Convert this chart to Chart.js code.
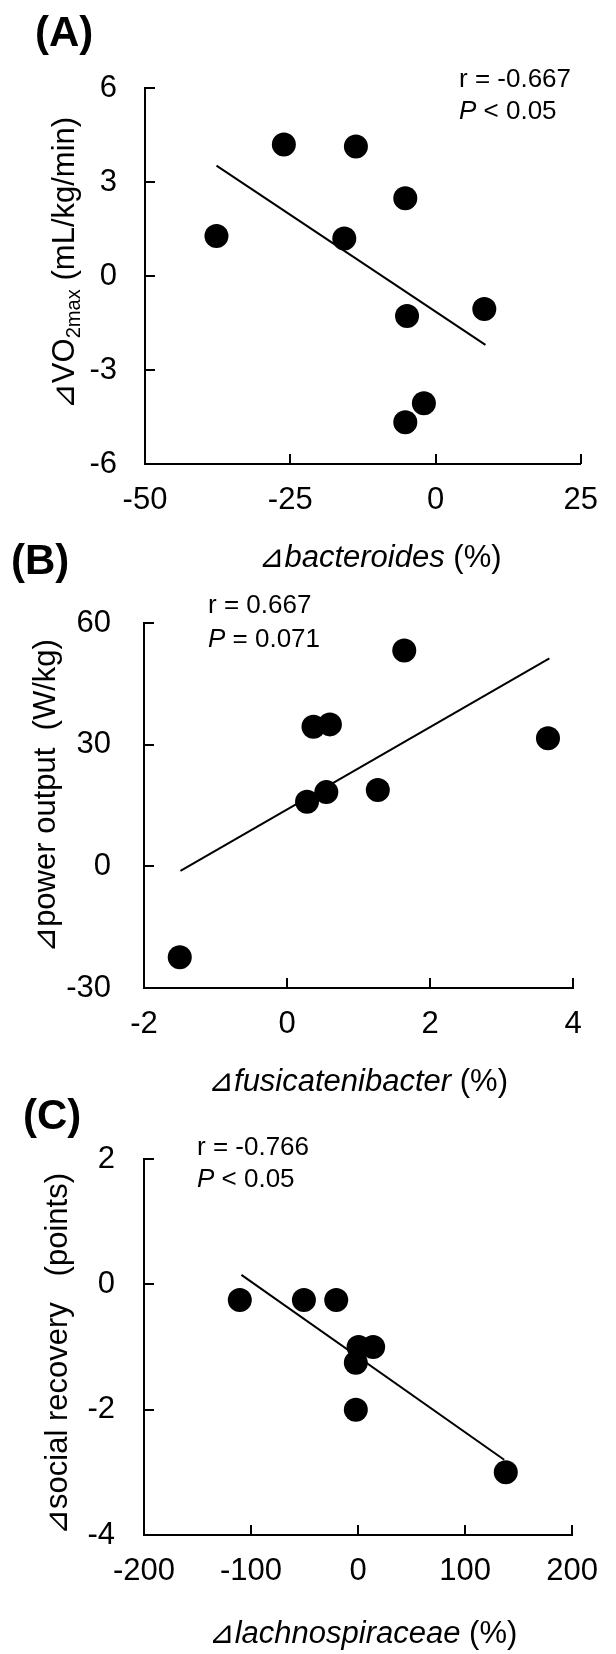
<!DOCTYPE html>
<html>
<head>
<meta charset="utf-8">
<script src="https://cdn.jsdelivr.net/npm/chart.js@4.4.1/dist/chart.umd.min.js"></script>
<style>
html, body { margin: 0; padding: 0; background: #fff; }
#page { position: relative; width: 616px; height: 1654px; }
#page canvas { position: absolute; left: 0; top: 0; }
</style>
</head>
<body>
<div id="page">
<canvas id="panel_a" width="616" height="1654"></canvas>
<canvas id="panel_b" width="616" height="1654"></canvas>
<canvas id="panel_c" width="616" height="1654"></canvas>
</div>
<script>
// (A) bacteroides vs VO2max
var bacteroides_x = [-37.7, -26.1, -13.7, -5.2, -15.7, -4.9, 8.4, -2.0, -5.2];
var vo2max_y = [1.28, 4.20, 4.13, 2.48, 1.20, -1.28, -1.05, -4.06, -4.67];
var fit_a_x = [-37.7, 8.6];
var fit_a_y = [3.52, -2.20];
var ticks_a_x = [-50, -25, 0, 25];
var ticks_a_y = [-6, -3, 0, 3, 6];

// (B) fusicatenibacter vs power output
var fusicatenibacter_x = [-1.50, 0.28, 0.55, 0.37, 0.60, 1.27, 1.64, 3.65];
var power_y = [-22.4, 15.9, 18.3, 34.4, 35.0, 18.8, 53.2, 31.6];
var fit_b_x = [-1.49, 3.67];
var fit_b_y = [-1.1, 51.3];
var ticks_b_x = [-2, 0, 2, 4];
var ticks_b_y = [-30, 0, 30, 60];

// (C) lachnospiraceae vs social recovery
var lachnospiraceae_x = [-110.5, -50.6, -20.4, 0.5, 14.1, -2.1, -2.1, 138];
var social_y = [-0.25, -0.25, -0.25, -1, -1, -1.25, -2, -3];
var fit_c_x = [-109, 136.5];
var fit_c_y = [0.15, -2.8];
var ticks_c_x = [-200, -100, 0, 100, 200];
var ticks_c_y = [-4, -2, 0, 2];

var FONT = "'Liberation Sans', Arial, 'DejaVu Sans', sans-serif";
var PAGE_W = 616;
var PAGE_H = 1654;

function to_points(xs, ys)
{
    return xs.map((x, i) => ({ x: x, y: ys[i] }));
}

// draws text made of several styled pieces (italic, subscript)
var rich_text_plugin = {
    id: 'rich_text',
    afterDraw(chart, args, opts)
    {
        var ctx = chart.ctx;
        (opts.items || []).forEach(item => {
            ctx.save();
            ctx.translate(item.x, item.y);
            if (item.rotate) ctx.rotate(item.rotate);
            ctx.fillStyle = '#000';
            ctx.textBaseline = 'alphabetic';
            ctx.textAlign = 'left';
            var parts = item.parts.map(pt => {
                var size = pt.sub ? item.size * 0.65 : item.size;
                var font = (pt.italic ? 'italic ' : '') + (item.bold ? 'bold ' : '') + size + 'px ' + FONT;
                ctx.font = font;
                return { text: pt.text, font: font, w: ctx.measureText(pt.text).width, dy: pt.sub ? item.size * 0.2 : 0 };
            });
            var total = parts.reduce((s, p) => s + p.w, 0);
            var x = item.align === 'center' ? -total / 2 : 0;
            parts.forEach(p => {
                ctx.font = p.font;
                ctx.fillText(p.text, x, p.dy);
                x += p.w;
            });
            ctx.restore();
        });
    }
};

// tick marks pointing into the plot
var inner_ticks_plugin = {
    id: 'inner_ticks',
    afterDatasetsDraw(chart)
    {
        var ctx = chart.ctx;
        var area = chart.chartArea;
        var sx = chart.scales.x;
        var sy = chart.scales.y;
        ctx.save();
        ctx.strokeStyle = '#000';
        ctx.lineWidth = 2;
        ctx.beginPath();
        sx.ticks.forEach(t => {
            var px = Math.round(sx.getPixelForValue(t.value));
            ctx.moveTo(px, area.bottom);
            ctx.lineTo(px, area.bottom - 10);
        });
        sy.ticks.forEach(t => {
            var py = Math.round(sy.getPixelForValue(t.value));
            ctx.moveTo(area.left, py);
            ctx.lineTo(area.left + 10, py);
        });
        ctx.stroke();
        ctx.restore();
    }
};

function make_panel(canvas_id, p)
{
    var tick_font = { family: FONT, size: 31 };
    return new Chart(document.getElementById(canvas_id), {
        type: 'scatter',
        data: {
            datasets: [
                {
                    data: to_points(p.fit_x, p.fit_y),
                    showLine: true,
                    borderColor: '#000',
                    borderWidth: 2,
                    pointRadius: 0,
                    fill: false
                },
                {
                    data: to_points(p.xs, p.ys),
                    backgroundColor: '#000',
                    borderWidth: 0,
                    pointRadius: 12
                }
            ]
        },
        options: {
            responsive: false,
            animation: false,
            devicePixelRatio: 1,
            events: [],
            layout: { padding: { left: 0, top: p.area.top, right: PAGE_W - p.area.right, bottom: 0 } },
            plugins: {
                legend: { display: false },
                tooltip: { enabled: false },
                rich_text: { items: p.texts }
            },
            elements: { line: { tension: 0 } },
            scales: {
                x: {
                    type: 'linear',
                    min: p.x_ticks[0],
                    max: p.x_ticks[p.x_ticks.length - 1],
                    afterBuildTicks: s => { s.ticks = p.x_ticks.map(v => ({ value: v })); },
                    afterFit: s => { s.height = PAGE_H - p.area.bottom; },
                    grid: { display: false, drawTicks: false },
                    border: { display: true, color: '#000', width: 2 },
                    ticks: { color: '#000', font: tick_font, padding: 18, maxRotation: 0, callback: v => String(v) }
                },
                y: {
                    type: 'linear',
                    min: p.y_ticks[0],
                    max: p.y_ticks[p.y_ticks.length - 1],
                    afterBuildTicks: s => { s.ticks = p.y_ticks.map(v => ({ value: v })); },
                    afterFit: s => { s.width = p.area.left; },
                    grid: { display: false, drawTicks: false },
                    border: { display: true, color: '#000', width: 2 },
                    ticks: { color: '#000', font: tick_font, padding: p.y_pad, callback: v => String(v) }
                }
            }
        },
        plugins: [inner_ticks_plugin, rich_text_plugin]
    });
}

window.addEventListener('load', function()
{
    make_panel('panel_a', {
        xs: bacteroides_x, ys: vo2max_y, fit_x: fit_a_x, fit_y: fit_a_y,
        x_ticks: ticks_a_x, y_ticks: ticks_a_y,
        area: { left: 145, top: 88, right: 587, bottom: 464 },
        y_pad: 28,
        texts: [
            { x: 35, y: 46, size: 42, bold: true, parts: [{ text: '(A)' }] },
            { x: 459, y: 87, size: 26, parts: [{ text: 'r = -0.667' }] },
            { x: 459, y: 119, size: 26, parts: [{ text: 'P', italic: true }, { text: ' < 0.05' }] },
            { x: 380, y: 567, size: 31, align: 'center',
              parts: [{ text: '⊿bacteroides', italic: true }, { text: ' (%)' }] },
            { x: 74, y: 263, size: 31, align: 'center', rotate: -Math.PI / 2,
              parts: [{ text: '⊿VO' }, { text: '2max', sub: true }, { text: ' (mL/kg/min)' }] }
        ]
    });

    make_panel('panel_b', {
        xs: fusicatenibacter_x, ys: power_y, fit_x: fit_b_x, fit_y: fit_b_y,
        x_ticks: ticks_b_x, y_ticks: ticks_b_y,
        area: { left: 144, top: 623, right: 573, bottom: 988 },
        y_pad: 33,
        texts: [
            { x: 11, y: 574, size: 42, bold: true, parts: [{ text: '(B)' }] },
            { x: 208, y: 613, size: 26, parts: [{ text: 'r = 0.667' }] },
            { x: 208, y: 647, size: 26, parts: [{ text: 'P', italic: true }, { text: ' = 0.071' }] },
            { x: 358, y: 1091, size: 31, align: 'center',
              parts: [{ text: '⊿fusicatenibacter', italic: true }, { text: ' (%)' }] },
            { x: 55, y: 796, size: 31, align: 'center', rotate: -Math.PI / 2,
              parts: [{ text: '⊿power output  (W/kg)' }] }
        ]
    });

    make_panel('panel_c', {
        xs: lachnospiraceae_x, ys: social_y, fit_x: fit_c_x, fit_y: fit_c_y,
        x_ticks: ticks_c_x, y_ticks: ticks_c_y,
        area: { left: 144, top: 1159, right: 585, bottom: 1535 },
        y_pad: 29,
        texts: [
            { x: 23, y: 1129, size: 42, bold: true, parts: [{ text: '(C)' }] },
            { x: 197, y: 1155, size: 26, parts: [{ text: 'r = -0.766' }] },
            { x: 197, y: 1187, size: 26, parts: [{ text: 'P', italic: true }, { text: ' < 0.05' }] },
            { x: 363, y: 1643, size: 31, align: 'center',
              parts: [{ text: '⊿lachnospiraceae', italic: true }, { text: ' (%)' }] },
            { x: 67, y: 1354, size: 31, align: 'center', rotate: -Math.PI / 2,
              parts: [{ text: '⊿social recovery   (points)' }] }
        ]
    });
});
</script>
</body>
</html>
